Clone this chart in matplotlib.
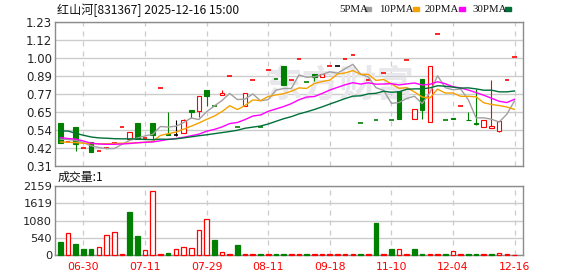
import numpy as np
import pandas as pd
import matplotlib
matplotlib.use('Agg')
import matplotlib.pyplot as plt
from matplotlib.patches import Rectangle

# daily candles (index 0 = 06-25 ... 59 = 12-16)
opens = [0.582, 0.457, 0.556, 0.421, 0.458, 0.402, 0.419, 0.451, 0.553, 0.479,
         0.579, 0.485, 0.583, 0.802, 0.512, 0.505, 0.516, 0.665, 0.656, 0.790,
         0.691, 0.760, 0.879, 0.559, 0.692, 0.853, 0.555, 0.917, 0.861, 0.946,
         0.853, 0.987, 0.844, 0.895, 0.879, 0.943, 0.944, 0.987, 1.015, 0.580,
         0.853, 0.602, 0.900, 0.602, 0.784, 0.983, 0.605, 0.863, 0.586, 1.153,
         0.602, 0.611, 0.687, 0.603, 0.579, 0.558, 0.547, 0.533, 0.853, 1.000]
highs = [0.582, 0.458, 0.556, 0.422, 0.458, 0.403, 0.420, 0.452, 0.554, 0.522,
         0.579, 0.486, 0.583, 0.803, 0.650, 0.601, 0.607, 0.665, 0.754, 0.790,
         0.691, 0.792, 0.880, 0.559, 0.771, 0.854, 0.555, 0.918, 0.861, 0.946,
         0.854, 0.988, 0.844, 0.895, 0.894, 0.944, 0.944, 0.988, 1.016, 0.580,
         0.854, 0.602, 0.901, 0.602, 0.784, 0.984, 0.671, 0.863, 0.946, 1.154,
         0.602, 0.611, 0.688, 0.654, 0.799, 0.601, 0.856, 0.596, 0.854, 1.001]
lows = [0.456, 0.457, 0.405, 0.421, 0.394, 0.402, 0.419, 0.451, 0.553, 0.479,
        0.479, 0.485, 0.480, 0.802, 0.505, 0.500, 0.516, 0.611, 0.618, 0.690,
        0.690, 0.760, 0.879, 0.558, 0.692, 0.853, 0.554, 0.917, 0.860, 0.826,
        0.853, 0.987, 0.843, 0.850, 0.879, 0.943, 0.944, 0.987, 1.015, 0.579,
        0.853, 0.601, 0.900, 0.601, 0.607, 0.983, 0.605, 0.605, 0.586, 1.153,
        0.601, 0.605, 0.687, 0.601, 0.569, 0.558, 0.547, 0.526, 0.853, 1.000]
closes = [0.456, 0.458, 0.447, 0.422, 0.394, 0.403, 0.420, 0.452, 0.554, 0.522,
          0.479, 0.486, 0.505, 0.803, 0.505, 0.505, 0.601, 0.654, 0.754, 0.754,
          0.690, 0.775, 0.880, 0.558, 0.771, 0.854, 0.554, 0.918, 0.860, 0.826,
          0.854, 0.988, 0.843, 0.877, 0.894, 0.944, 0.944, 0.988, 1.016, 0.579,
          0.854, 0.601, 0.901, 0.601, 0.607, 0.984, 0.671, 0.665, 0.946, 1.154,
          0.601, 0.605, 0.688, 0.601, 0.577, 0.601, 0.562, 0.596, 0.854, 1.001]
volumes = [402, 688, 339, 180, 180, 265, 624, 720, 20, 1354,
           592, 170, 2010, 20, 50, 200, 265, 233, 772, 1121,
           465, 106, 20, 307, 20, 20, 20, 20, 20, 20,
           20, 20, 20, 20, 20, 20, 20, 20, 20, 20,
           20, 1005, 20, 180, 180, 20, 180, 20, 20, 20,
           20, 116, 20, 20, 20, 20, 20, 53, 20, 1]

# moving-average values shown before the full window is available
ma5_head = [0.478, 0.476, 0.470, 0.455]
ma10_head = [0.460, 0.458, 0.456, 0.452, 0.450, 0.449, 0.449, 0.450, 0.452]
ma20_head = [0.488, 0.482, 0.478, 0.466, 0.452, 0.447, 0.445, 0.445, 0.447, 0.450,
             0.455, 0.458, 0.460, 0.468, 0.476, 0.482, 0.490, 0.500, 0.510]
ma30_head = [0.530, 0.530, 0.515, 0.503, 0.492, 0.486, 0.484, 0.481, 0.480, 0.480,
             0.479, 0.476, 0.475, 0.478, 0.477, 0.480, 0.486, 0.493, 0.500, 0.506,
             0.513, 0.520, 0.527, 0.535, 0.548, 0.555, 0.562, 0.575, 0.592]

date_pos = [3, 11, 19, 27, 35, 43, 51, 59]
date_labels = ['06-30', '07-11', '07-29', '08-11', '09-18', '11-10', '12-04', '12-16']
price_labels = ['0.31', '0.42', '0.54', '0.65', '0.77', '0.89', '1.00', '1.12', '1.23']
vol_labels = ['0', '540', '1080', '1619', '2159']

RED = '#ff0000'
GREEN = '#008000'
MA_COLORS = {5: '#a0a0a0', 10: '#f5a200', 20: '#ff00ff', 30: '#00703a'}
GRID = '#cccccc'
SPINE = '#8c8c8c'
CJK = ['Noto Sans CJK SC', 'DejaVu Sans']

fig = plt.figure(figsize=(5.78, 2.76), dpi=100)
ax = fig.add_axes([0.0952, 0.400, 0.809, 0.522])
axv = fig.add_axes([0.0952, 0.076, 0.809, 0.250])

x = np.arange(len(closes))
W = 0.6

# candles
for i in x:
    o, h, l, c = opens[i], highs[i], lows[i], closes[i]
    if c > o:
        col = RED
    elif c < o:
        col = GREEN
    else:
        col = 'black'
    top, bot = max(o, c), min(o, c)
    if h > top:
        ax.vlines(i, top, h, color=col, lw=0.8, zorder=3)
    if l < bot:
        ax.vlines(i, l, bot, color=col, lw=0.8, zorder=3)
    if top - bot > 0.002:
        ax.bar(i, top - bot, bottom=bot, width=W, zorder=3, lw=0.8,
               facecolor='white' if c > o else col, edgecolor=col)
    else:
        ax.hlines(c, i - W / 2, i + W / 2, color=col, lw=1.2, zorder=3)

# moving averages
close_s = pd.Series(closes)
for n, head in [(5, ma5_head), (10, ma10_head), (20, ma20_head), (30, ma30_head)]:
    ma = close_s.rolling(n).mean()
    ma.iloc[:n - 1] = head
    ax.plot(x, ma.values, color=MA_COLORS[n], lw=1.0, zorder=4)

# volume, coloured by close vs previous close
for i in x:
    up = closes[i] >= closes[i - 1] if i > 0 else closes[i] >= opens[i]
    if up:
        axv.bar(i, volumes[i], width=W, facecolor='white', edgecolor=RED, lw=0.9,
                zorder=3, clip_on=False)
    else:
        axv.bar(i, volumes[i], width=W, facecolor=GREEN, edgecolor=GREEN, lw=0.9,
                zorder=3, clip_on=False)

lo, hi = 0.3087, 1.2311
ax.set_ylim(lo, hi)
ax.set_yticks(np.linspace(lo, hi, len(price_labels)), price_labels)
axv.set_ylim(0, 2159)
axv.set_yticks(np.linspace(0, 2159, len(vol_labels)), vol_labels)

for a in (ax, axv):
    a.set_xlim(-0.69, 60.05)
    a.set_xticks(date_pos)
    a.grid(axis='y', color=GRID, lw=1.0, zorder=0)
    a.grid(axis='x', color=GRID, lw=0.9, ls=(0, (4, 4)), zorder=0)
    a.set_axisbelow(True)
    for s in a.spines.values():
        s.set_color(SPINE)
        s.set_linewidth(1.0)
    a.tick_params(length=0, pad=2, labelsize=8.5, labelcolor='#222222')

ax.set_xticklabels([])
axv.set_xticklabels(date_labels)
axv.tick_params(axis='x', labelcolor=RED, labelsize=7.8, pad=5)
axv.tick_params(axis='y', labelsize=8.2)

# watermark
ax.text(0.61, 0.555, '东方财富', transform=ax.transAxes, fontsize=27, color='#e8e8ec',
        family=CJK, fontweight='bold', ha='center', va='center', zorder=1)

# header
fig.text(57 / 578, 1 - 10 / 276, '红山河[831367] 2025-12-16 15:00', family=CJK,
         fontsize=8.7, va='center', ha='left', color='#111111')
leg = [('5PMA', 339, 365, 5), ('10PMA', 379, 413, 10), ('20PMA', 425, 459, 20), ('30PMA', 472, 505, 30)]
for label, tx, sx, n in leg:
    fig.text(tx / 578, 1 - 9 / 276, label, family='Liberation Serif', fontsize=7.8,
             va='center', ha='left', color='#111111')
    fig.patches.append(Rectangle((sx / 578, 1 - 11 / 276), 6 / 578, 4 / 276,
                                 transform=fig.transFigure, color=MA_COLORS[n]))

fig.text(58 / 578, 1 - 177 / 276, '成交量:1', family=CJK, fontsize=8.6,
         va='center', ha='left', color='#111111')

fig.savefig('out.png', dpi=100)
